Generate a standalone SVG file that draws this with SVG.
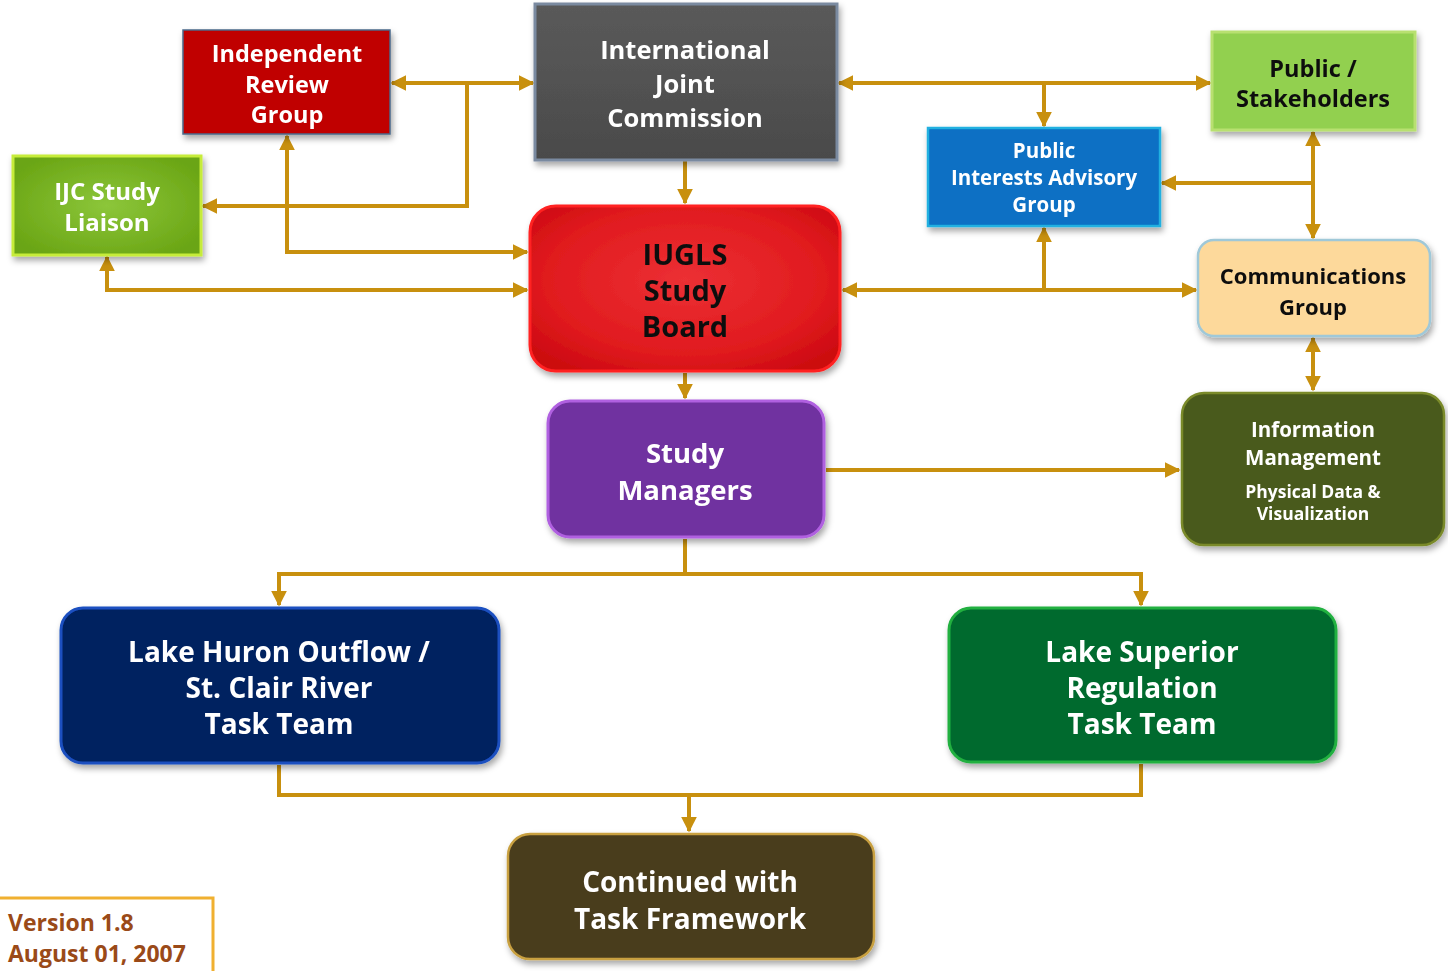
<svg xmlns="http://www.w3.org/2000/svg" width="1448" height="971" viewBox="0 0 1448 971">
<style>
.t{font-family:"Open Sans",Lato,"Liberation Sans",sans-serif;font-weight:bold;text-anchor:middle;}
.w{fill:#ffffff;}
.k{fill:#111111;}
.c{fill:none;stroke:#c8900e;stroke-width:4;}
</style>
<defs>
<marker id="ah" viewBox="0 0 10 10" refX="9" refY="5" markerWidth="16" markerHeight="16" markerUnits="userSpaceOnUse" orient="auto-start-reverse">
<path d="M0,0 L10,5 L0,10 z" fill="#c8900e"/>
</marker>
<filter id="sh" x="-10%" y="-10%" width="125%" height="130%">
<feDropShadow dx="2" dy="4" stdDeviation="3" flood-color="#000" flood-opacity="0.35"/>
</filter>
<radialGradient id="gRed" cx="50%" cy="45%" r="65%"><stop offset="0" stop-color="#ec3034"/><stop offset="0.7" stop-color="#e01a1e"/><stop offset="1" stop-color="#cc0a10"/></radialGradient>
<radialGradient id="gLiaison" cx="50%" cy="50%" r="60%"><stop offset="0" stop-color="#8cc63a"/><stop offset="1" stop-color="#6aa514"/></radialGradient>
<linearGradient id="gGray" x1="0" y1="0" x2="0" y2="1"><stop offset="0" stop-color="#5a5a5a"/><stop offset="1" stop-color="#4a4a4a"/></linearGradient>
</defs>

<g id="connectors">
<path class="c" d="M392,83 L533,83" marker-start="url(#ah)" marker-end="url(#ah)"/>
<path class="c" d="M467,83 L467,206 L203,206" marker-end="url(#ah)"/>
<path class="c" d="M287,136 L287,252 L527,252" marker-start="url(#ah)" marker-end="url(#ah)"/>
<path class="c" d="M107,257 L107,290 L527,290" marker-start="url(#ah)" marker-end="url(#ah)"/>
<path class="c" d="M685,161 L685,203" marker-end="url(#ah)"/>
<path class="c" d="M839,83 L1210,83" marker-start="url(#ah)" marker-end="url(#ah)"/>
<path class="c" d="M1044,83 L1044,126" marker-end="url(#ah)"/>
<path class="c" d="M1313,132 L1313,238" marker-start="url(#ah)" marker-end="url(#ah)"/>
<path class="c" d="M1313,183 L1162,183" marker-end="url(#ah)"/>
<path class="c" d="M843,290 L1196,290" marker-start="url(#ah)" marker-end="url(#ah)"/>
<path class="c" d="M1044,290 L1044,228" marker-end="url(#ah)"/>
<path class="c" d="M1313,338 L1313,390" marker-start="url(#ah)" marker-end="url(#ah)"/>
<path class="c" d="M685,373 L685,398" marker-end="url(#ah)"/>
<path class="c" d="M826,470 L1179,470" marker-end="url(#ah)"/>
<path class="c" d="M685,539 L685,574"/>
<path class="c" d="M685,574 L279,574 L279,605" marker-end="url(#ah)"/>
<path class="c" d="M685,574 L1141,574 L1141,605" marker-end="url(#ah)"/>
<path class="c" d="M279,765 L279,795 L1141,795 L1141,764"/>
<path class="c" d="M689,795 L689,831" marker-end="url(#ah)"/>
</g>

<g id="irg" filter="url(#sh)">
<rect x="183" y="30" width="207" height="104" fill="#c00000" stroke="#4a6a8a" stroke-width="1.5"/>
<text class="t w" font-size="23.5" x="287" y="62">Independent</text>
<text class="t w" font-size="23.5" x="287" y="93">Review</text>
<text class="t w" font-size="23.5" x="287" y="123">Group</text>
</g>

<g id="ijc" filter="url(#sh)">
<rect x="535" y="4" width="302" height="156" fill="url(#gGray)" stroke="#7a8aa0" stroke-width="3"/>
<text class="t w" font-size="25.5" x="685" y="59">International</text>
<text class="t w" font-size="25.5" x="685" y="93">Joint</text>
<text class="t w" font-size="25.5" x="685" y="127">Commission</text>
</g>

<g id="liaison" filter="url(#sh)">
<rect x="13" y="156" width="188" height="99" fill="url(#gLiaison)" stroke="#c6ec3a" stroke-width="3"/>
<text class="t w" font-size="24" x="107" y="200">IJC Study</text>
<text class="t w" font-size="24" x="107" y="231">Liaison</text>
</g>

<g id="public" filter="url(#sh)">
<rect x="1212" y="32" width="203" height="98" fill="#92d050" stroke="#b8e070" stroke-width="3"/>
<text class="t k" font-size="23.5" x="1313" y="77">Public /</text>
<text class="t k" font-size="23.5" x="1313" y="107">Stakeholders</text>
</g>

<g id="piag" filter="url(#sh)">
<rect x="928" y="128" width="232" height="98" fill="#0a6fc4" stroke="#20b0e0" stroke-width="2.5"/>
<text class="t w" font-size="20.5" x="1044" y="158">Public</text>
<text class="t w" font-size="20.5" x="1044" y="185">Interests Advisory</text>
<text class="t w" font-size="20.5" x="1044" y="212">Group</text>
</g>

<g id="board" filter="url(#sh)">
<rect x="530" y="206" width="310" height="165" rx="26" fill="url(#gRed)" stroke="#ff2020" stroke-width="3"/>
<text class="t k" font-size="29" x="685" y="265">IUGLS</text>
<text class="t k" font-size="29" x="685" y="301">Study</text>
<text class="t k" font-size="29" x="685" y="337">Board</text>
</g>

<g id="comm" filter="url(#sh)">
<rect x="1198" y="240" width="232" height="96" rx="16" fill="#fdd99b" stroke="#9fc8d8" stroke-width="2.5"/>
<text class="t k" font-size="22" x="1313" y="284">Communications</text>
<text class="t k" font-size="22" x="1313" y="315">Group</text>
</g>

<g id="managers" filter="url(#sh)">
<rect x="548" y="401" width="276" height="136" rx="22" fill="#7030a0" stroke="#b060e0" stroke-width="3"/>
<text class="t w" font-size="27.5" x="685" y="463">Study</text>
<text class="t w" font-size="27.5" x="685" y="500">Managers</text>
</g>

<g id="info" filter="url(#sh)">
<rect x="1182" y="393" width="262" height="152" rx="22" fill="#4a5a1a" stroke="#7a8a2a" stroke-width="2.5"/>
<text class="t w" font-size="20.5" x="1313" y="437">Information</text>
<text class="t w" font-size="20.5" x="1313" y="465">Management</text>
<text class="t w" font-size="17.5" x="1313" y="498">Physical  Data &amp;</text>
<text class="t w" font-size="17.5" x="1313" y="520">Visualization</text>
</g>

<g id="huron" filter="url(#sh)">
<rect x="61" y="608" width="438" height="155" rx="22" fill="#002060" stroke="#1a50c0" stroke-width="3"/>
<text class="t w" font-size="28" x="279" y="662">Lake Huron Outflow /</text>
<text class="t w" font-size="28" x="279" y="698">St. Clair River</text>
<text class="t w" font-size="28" x="279" y="734">Task Team</text>
</g>

<g id="superior" filter="url(#sh)">
<rect x="949" y="608" width="387" height="154" rx="22" fill="#006b2e" stroke="#20b040" stroke-width="3"/>
<text class="t w" font-size="28" x="1142" y="662">Lake Superior</text>
<text class="t w" font-size="28" x="1142" y="698">Regulation</text>
<text class="t w" font-size="28" x="1142" y="734">Task Team</text>
</g>

<g id="continued" filter="url(#sh)">
<rect x="508" y="834" width="366" height="125" rx="22" fill="#4a3c1e" stroke="#c8a040" stroke-width="2.5"/>
<text class="t w" font-size="28" x="690" y="892">Continued with</text>
<text class="t w" font-size="28" x="690" y="929">Task Framework</text>
</g>

<g id="version">
<path d="M0,898 L213,898 L213,971" fill="#ffffff" stroke="#f0b030" stroke-width="3"/>
<text font-family="'Open Sans',Lato,'Liberation Sans',sans-serif" font-weight="bold" font-size="23" fill="#9a4a18" x="8" y="931">Version 1.8</text>
<text font-family="'Open Sans',Lato,'Liberation Sans',sans-serif" font-weight="bold" font-size="23" fill="#9a4a18" x="8" y="962">August 01, 2007</text>
</g>
</svg>
